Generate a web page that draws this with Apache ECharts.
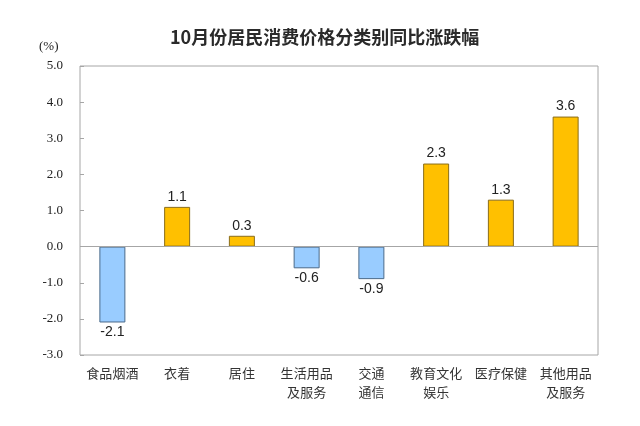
<!DOCTYPE html>
<html><head><meta charset="utf-8">
<script src="https://cdn.jsdelivr.net/npm/echarts@6/dist/echarts.min.js"></script>
<style>html,body{margin:0;padding:0;background:#fff}#c{width:640px;height:426px}</style>
</head><body><div id="c"></div>
<script>
const titleText = '10月份居民消费价格分类别同比涨跌幅';
const unitText = '(%)';
const categories = ['食品烟酒', '衣着', '居住', '生活用品\n及服务', '交通\n通信', '教育文化\n娱乐', '医疗保健', '其他用品\n及服务'];
const values = [-2.1, 1.1, 0.3, -0.6, -0.9, 2.3, 1.3, 3.6];
const yMin = -3, yMax = 5, yStep = 1;

const chart = echarts.init(document.getElementById('c'));
chart.setOption({
  animation: false,
  backgroundColor: '#fff',
  title: {
    text: titleText, left: 165, top: 23,
    textStyle: { fontFamily: 'Noto Sans CJK SC', fontSize: 18, fontWeight: 'bold', color: '#2a2a2a' }
  },
  graphic: [{
    type: 'text', left: 39, top: 40,
    style: { text: unitText, font: '13px "Liberation Serif"', fill: '#222' }
  }],
  grid: { left: 80, right: 42, top: 66, bottom: 71, show: true, borderColor: '#a6a6a6', borderWidth: 1 },
  xAxis: {
    type: 'category', data: categories, position: 'bottom',
    axisLine: { show: false, onZero: false },
    axisTick: { show: false },
    axisLabel: { fontFamily: 'Noto Sans CJK SC', fontSize: 13, color: '#333', margin: 9, lineHeight: 19, interval: 0 }
  },
  yAxis: {
    type: 'value', min: yMin, max: yMax, interval: yStep,
    splitLine: { show: false },
    axisLine: { show: false },
    axisTick: { show: true, inside: true, length: 4, lineStyle: { color: '#a6a6a6' } },
    axisLabel: { fontFamily: 'Liberation Serif', fontSize: 13, color: '#222', margin: 17, formatter: v => v.toFixed(1) }
  },
  series: [{
    type: 'bar', barWidth: 26,
    data: values.map(v => ({
      value: v,
      itemStyle: v >= 0
        ? { color: '#FFC000', borderColor: '#8a6d1a', borderWidth: 1 }
        : { color: '#99CCFF', borderColor: '#4a6a8a', borderWidth: 1 },
      label: { position: v >= 0 ? 'top' : 'bottom' }
    })),
    label: {
      show: true, distance: 3,
      fontFamily: 'Liberation Sans', fontSize: 14, color: '#222',
      formatter: p => p.value.toFixed(1)
    },
    markLine: {
      silent: true, symbol: 'none', label: { show: false },
      lineStyle: { color: '#a6a6a6', type: 'solid', width: 1 },
      data: [{ yAxis: 0 }]
    }
  }]
});
</script></body></html>
